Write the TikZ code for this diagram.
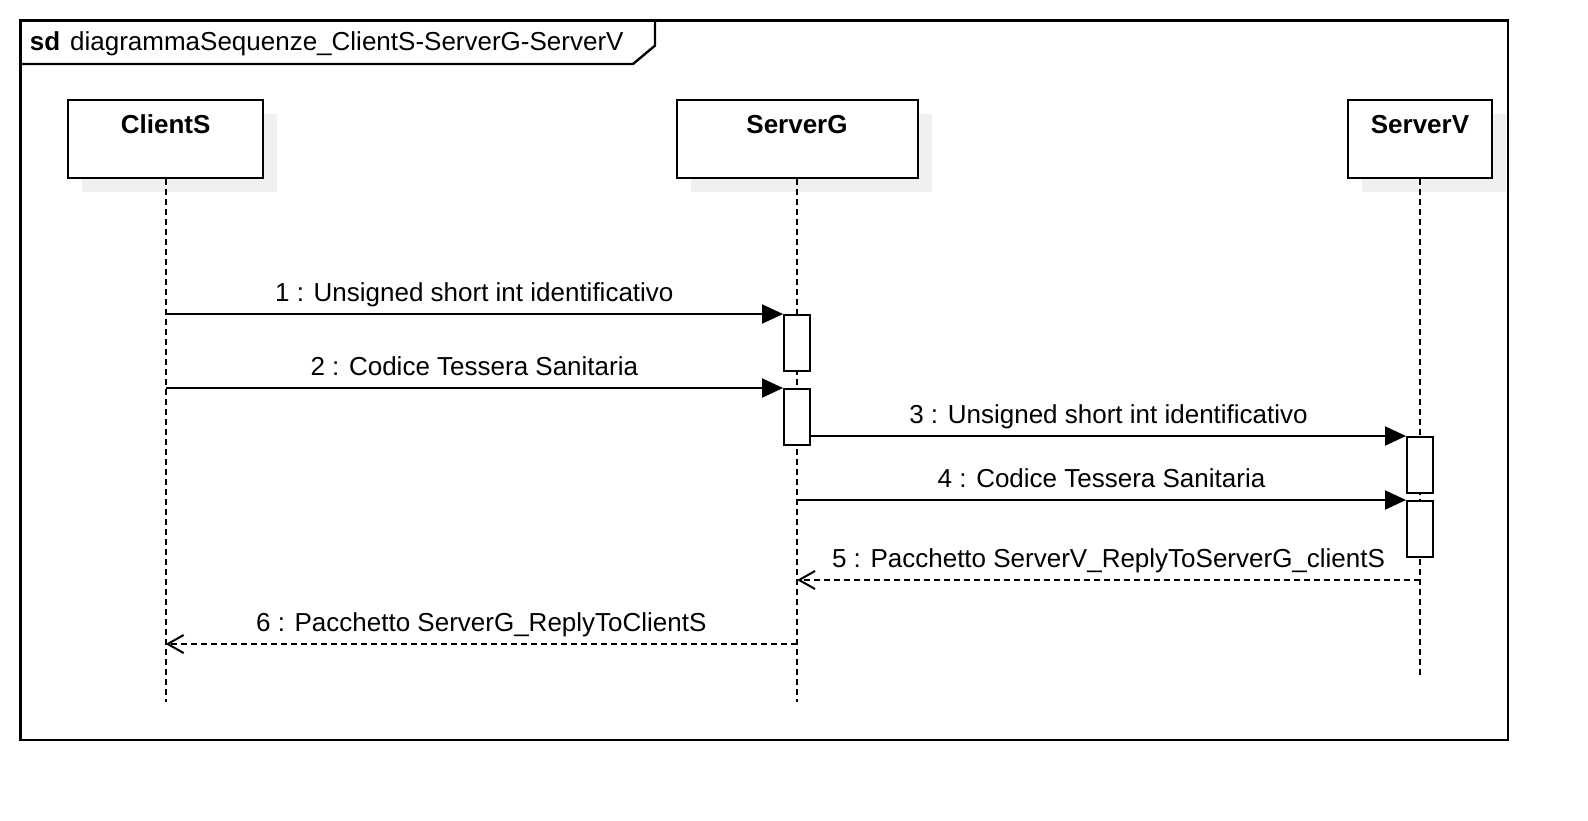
\documentclass[tikz,border=0pt]{standalone}
\usepackage{fontspec}
\setmainfont{Liberation Sans}
\usepackage{xcolor}
\usepackage{tikz}
\usetikzlibrary{arrows.meta,shadows}
\tikzstyle{every node}=[font=\fontsize{13pt}{15pt}\selectfont]
\tikzstyle{actor}=[draw=black,line width=1pt,fill=white,inner xsep=0pt,inner ysep=0pt,
    text height=16.7pt,text depth=22.3pt,font=\fontsize{13pt}{15pt}\selectfont\bfseries,
    drop shadow={shadow xshift=7pt,shadow yshift=-7pt,fill=black!6,opacity=1}]
\tikzstyle{lifeline}=[line width=1pt,dash pattern=on 3pt off 2pt]
\tikzstyle{activation}=[draw=black,line width=1pt,fill=white,anchor=north,
    minimum width=13pt,minimum height=28pt,inner sep=0pt]
\tikzstyle{sync}=[line width=1pt,-{Triangle[length=10.5pt,width=9.5pt]}]
\tikzstyle{reply}=[line width=1pt,dash pattern=on 3pt off 2pt,-{Straight Barb[length=8pt,width=9pt]}]
\tikzstyle{msglabel}=[anchor=base,yshift=6.5pt,inner sep=0pt]

\begin{document}
\begin{tikzpicture}[x=0.5pt,y=-0.5pt]
    \useasboundingbox (0,0) rectangle (1588,820);
    % frame and title
    \draw[line width=1.2pt] (20.3,20.3) rectangle (1508,740);
    \draw[line width=1.2pt] (20.3,20.3) -- (655,20.3) -- (655,45.6) -- (633,64) -- (20.3,64);
    \node [anchor=base west,inner sep=0pt] (title) at (29.4,50.6)
        {\textbf{sd}\hspace{5pt}diagrammaSequenze\_ClientS-ServerG-ServerV};
    % actors
    \node [actor,minimum width=97.7pt] (clientS) at (165.6,139.3) {ClientS};
    \node [actor,minimum width=120.5pt] (serverG) at (797,139.3) {ServerG};
    \node [actor,minimum width=72pt] (serverV) at (1420,139.3) {ServerV};
    % lifelines
    \draw[lifeline] (clientS.south) -- (clientS.south |- 0,702);
    \draw[lifeline] (serverG.south) -- (serverG.south |- 0,702);
    \draw[lifeline] (serverV.south) -- (serverV.south |- 0,676.5);
    % activations
    \node [activation] (actG1) at (serverG.south |- 0,314) {};
    \node [activation] (actG2) at (serverG.south |- 0,388) {};
    \node [activation] (actV1) at (serverV.south |- 0,436) {};
    \node [activation] (actV2) at (serverV.south |- 0,500) {};
    % messages
    \draw[sync] (clientS.south |- actG1.north) -- (actG1.north west)
        node [msglabel,midway] {1 : Unsigned short int identificativo};
    \draw[sync] (clientS.south |- actG2.north) -- (actG2.north west)
        node [msglabel,midway] {2 : Codice Tessera Sanitaria};
    \draw[sync] (actG2.east |- actV1.north) -- (actV1.north west)
        node [msglabel,midway] {3 : Unsigned short int identificativo};
    \draw[sync] (serverG.south |- actV2.north) -- (actV2.north west)
        node [msglabel,midway] {4 : Codice Tessera Sanitaria};
    \draw[reply] (serverV.south |- 0,580) -- (serverG.south |- 0,580)
        node [msglabel,midway] {5 : Pacchetto ServerV\_ReplyToServerG\_clientS};
    \draw[reply] (serverG.south |- 0,644) -- (clientS.south |- 0,644)
        node [msglabel,midway] {6 : Pacchetto ServerG\_ReplyToClientS};
\end{tikzpicture}
\end{document}
